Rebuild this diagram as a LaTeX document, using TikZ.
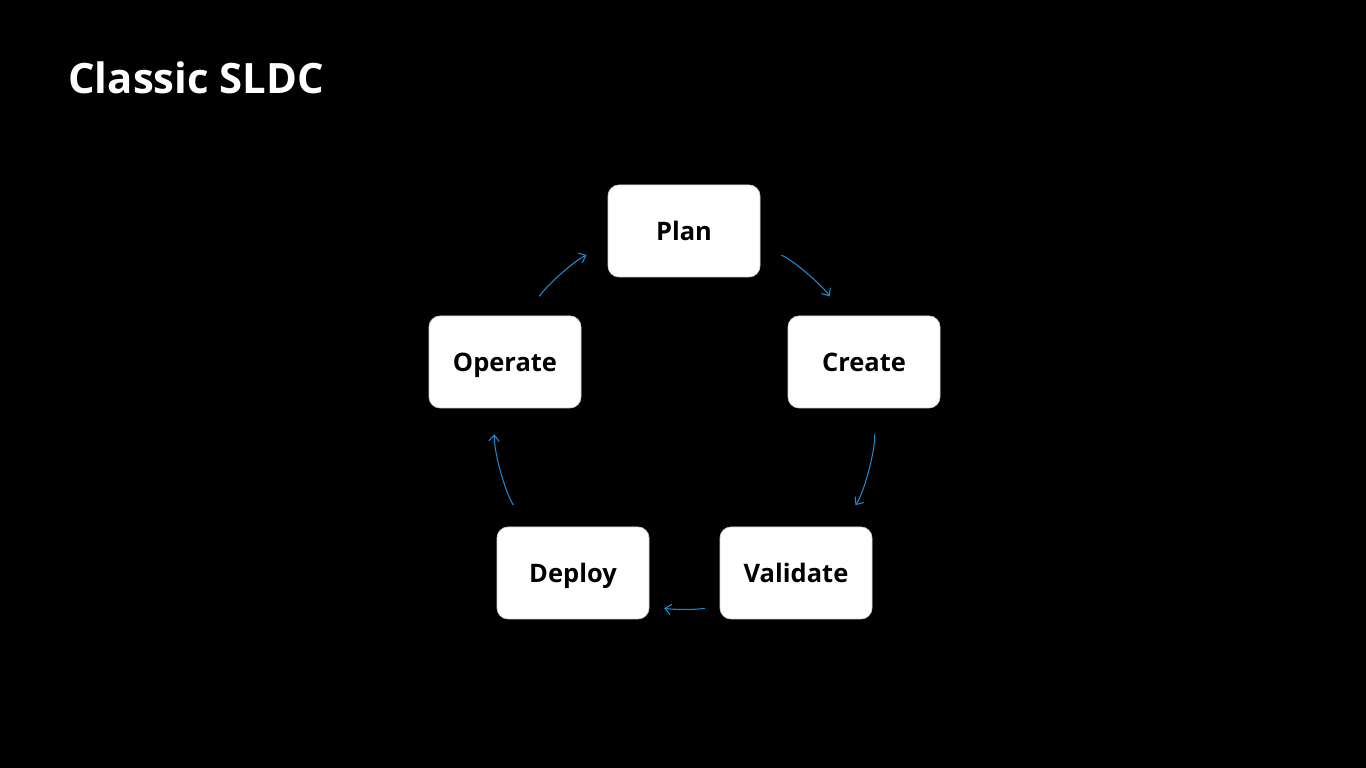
\documentclass[tikz,border=0pt]{standalone}
\usepackage{fontspec}
\setmainfont{Open Sans}
\usetikzlibrary{arrows.meta}
\definecolor{flowblue}{HTML}{1B8AD0}
\begin{document}
\begin{tikzpicture}
[stage node/.style={rectangle,rounded corners=0.22cm,fill=white,draw=gray!35,line width=0.4pt,
minimum width=3.04cm,minimum height=1.84cm,text height=0.38cm,text depth=0cm,
font=\bfseries\fontsize{14.5}{18}\selectfont},
flow/.style={draw=flowblue,line width=0.6pt,-{Straight Barb[length=3.5pt,width=6pt]},looseness=0.86}]
\fill[black] (0,0) rectangle (27.32,15.36);
\node[anchor=base west,inner sep=0,text=white,font=\bfseries\fontsize{23.8}{28}\selectfont] (title) at (1.36,13.48) {Classic SLDC};

\node[stage node] (plan) at (13.68,10.74) {Plan};
\node[stage node] (create) at (17.28,8.12) {Create};
\node[stage node] (validate) at (15.92,3.90) {Validate};
\node[stage node] (deploy) at (11.46,3.90) {Deploy};
\node[stage node] (operate) at (10.10,8.12) {Operate};

\draw[flow,shorten <=0.46cm,shorten >=0.46cm] (plan.-11.9) to[out=-23.7,in=123.4] (create.115.6);
\draw[flow,shorten <=0.52cm,shorten >=0.52cm] (create.-79.4) to[out=-86.4,in=55.5] (validate.46.3);
\draw[flow,shorten <=0.3cm,shorten >=0.3cm] (validate.203.2) to[out=-169,in=-10.7] (deploy.-23.3);
\draw[flow,shorten <=0.52cm,shorten >=0.52cm] (deploy.134.4) to[out=124.5,in=-93.6] (operate.-101.8);
\draw[flow,shorten <=0.46cm,shorten >=0.46cm] (operate.65.5) to[out=56.6,in=203.7] (plan.191.9);
\end{tikzpicture}
\end{document}
